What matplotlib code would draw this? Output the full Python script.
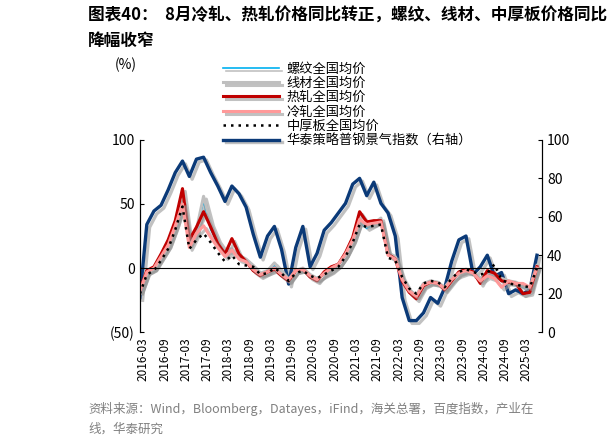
import matplotlib
matplotlib.use("Agg")
import matplotlib.pyplot as plt
import matplotlib.patheffects as pe
import numpy as np
import pandas as pd

plt.rcParams["font.family"] = ["Noto Sans CJK SC", "DejaVu Sans"]

# bimonthly observations, 2016-02 .. 2025-06
dates = pd.date_range("2016-02-01", "2025-06-01", freq="2MS")

rebar = [-18, -3, 0, 9, 18, 33, 50, 18, 28, 52, 30, 20, 12, 14, 9, 7, 1, -5,
         -3, 2, -3, -10, -2, -1, -6, -9, -5, -2, 2, 10, 22, 36, 31, 34, 38, 11,
         8, -9, -18, -22, -13, -11, -12, -16, -9, -4, -2, -4, -9, -4, -6, -9,
         -10, -11, -15, -16, 2]
wire = [-18, -3, 0, 9, 18, 33, 52, 20, 30, 56, 35, 22, 14, 15, 10, 7, 2, -4,
        -2, 4, -2, -9, -2, 0, -5, -8, -5, -2, 3, 11, 22, 37, 33, 35, 39, 12,
        9, -7, -17, -21, -12, -10, -11, -15, -8, -5, -3, -3, -8, -3, -5, -8,
        -10, -11, -14, -15, 2]
hot = [-17, -2, 1, 11, 22, 37, 62, 22, 32, 44, 32, 19, 11, 23, 11, 5, -2, -6,
       -3, -1, -6, -10, -2, -1, -7, -10, -3, 1, 3, 12, 24, 44, 36, 37, 37, 11,
       7, -10, -19, -24, -14, -11, -12, -17, -10, -3, -1, -3, -12, -2, -4, -10,
       -11, -12, -20, -19, 1]
cold = [-18, -3, 0, 9, 18, 33, 50, 16, 27, 33, 24, 16, 9, 14, 7, 5, -1, -5,
        -3, 0, -5, -9, -2, -1, -6, -9, -4, 0, 3, 11, 22, 38, 34, 35, 36, 10,
        7, -9, -18, -22, -13, -11, -12, -16, -9, -4, -2, -4, -10, -6, -8, -15,
        -10, -12, -12, -15, 0]
plate = [-20, -5, -2, 6, 15, 30, 48, 15, 22, 27, 20, 12, 5, 10, 3, 2, 1, -5,
         -4, 0, -4, -10, -4, -2, -6, -8, -5, -2, 1, 9, 20, 34, 32, 33, 34, 8,
         6, -7, -16, -20, -12, -10, -11, -15, -8, -3, -1, -3, -5, -4, 3, -9,
         -12, -13, -14, -15, 0]
index = [18, 56, 63, 66, 74, 83, 89, 81, 90, 91, 83, 76, 68, 76, 72, 65, 51,
         39, 50, 55, 43, 25, 44, 55, 34, 41, 53, 57, 62, 67, 77, 80, 71, 78,
         67, 62, 50, 18, 6, 6, 10, 18, 15, 23, 37, 48, 50, 30, 34, 40, 29, 31,
         20, 22, 20, 22, 40]

shadow = [pe.SimpleLineShadow(offset=(2, -2), shadow_color="#999999", alpha=0.6), pe.Normal()]

fig = plt.figure(figsize=(6.16, 4.47), dpi=100)
ax = fig.add_axes([0.227, 0.257, 0.653, 0.43])
ax2 = ax.twinx()

l1, = ax.plot(dates, rebar, color="#00B0F0", lw=1.2, label="螺纹全国均价", path_effects=shadow)
l2, = ax.plot(dates, wire, color="#BFBFBF", lw=2.2, label="线材全国均价", path_effects=shadow)
l3, = ax.plot(dates, hot, color="#C00000", lw=2.2, label="热轧全国均价", path_effects=shadow)
l4, = ax.plot(dates, cold, color="#FF9999", lw=2.2, label="冷轧全国均价", path_effects=shadow)
l5, = ax.plot(dates, plate, color="black", lw=1.8, ls=(0, (1, 2)), label="中厚板全国均价")
l6, = ax2.plot(dates, index, color="#0B3A78", lw=2.4, label="华泰策略普钢景气指数（右轴）", path_effects=shadow)
ax.set_zorder(ax2.get_zorder() + 1)
ax.patch.set_visible(False)

ax.axhline(0, color="black", lw=0.8)
ax.set_ylim(-50, 100)
ax.set_yticks([-50, 0, 50, 100])
ax.set_yticklabels(["(50)", "0", "50", "100"])
ax2.set_ylim(0, 100)
ax2.set_yticks([0, 20, 40, 60, 80, 100])
ax.set_xlim(pd.Timestamp("2016-02-01"), pd.Timestamp("2025-07-15"))
ticks = pd.date_range("2016-03-01", "2025-03-01", freq="6MS")
ax.set_xticks(ticks)
ax.set_xticklabels([t.strftime("%Y-%m") for t in ticks], rotation=90, fontsize=8.5)
for a in (ax, ax2):
    a.spines["top"].set_visible(False)
    a.spines["bottom"].set_visible(False)
    a.tick_params(axis="y", labelsize=10, direction="in", length=3)
ax.tick_params(axis="x", length=0)

fig.text(0.187, 0.845, "(%)", fontsize=10)
fig.legend(handles=[l1, l2, l3, l4, l5, l6], loc="upper left",
           bbox_to_anchor=(0.352, 0.875), frameon=False, fontsize=9.5,
           handlelength=4.2, labelspacing=0.1, borderpad=0, handletextpad=0.6)
fig.text(0.143, 0.985, "图表40：  8月冷轧、热轧价格同比转正，螺纹、线材、中厚板价格同比\n降幅收窄",
         fontsize=12, fontweight="bold", va="top", linespacing=1.5)
fig.text(0.143, 0.10, "资料来源：Wind，Bloomberg，Datayes，iFind，海关总署，百度指数，产业在\n线，华泰研究",
         fontsize=9, color="#808080", va="top", linespacing=1.6)

fig.savefig("out.png", dpi=100)
